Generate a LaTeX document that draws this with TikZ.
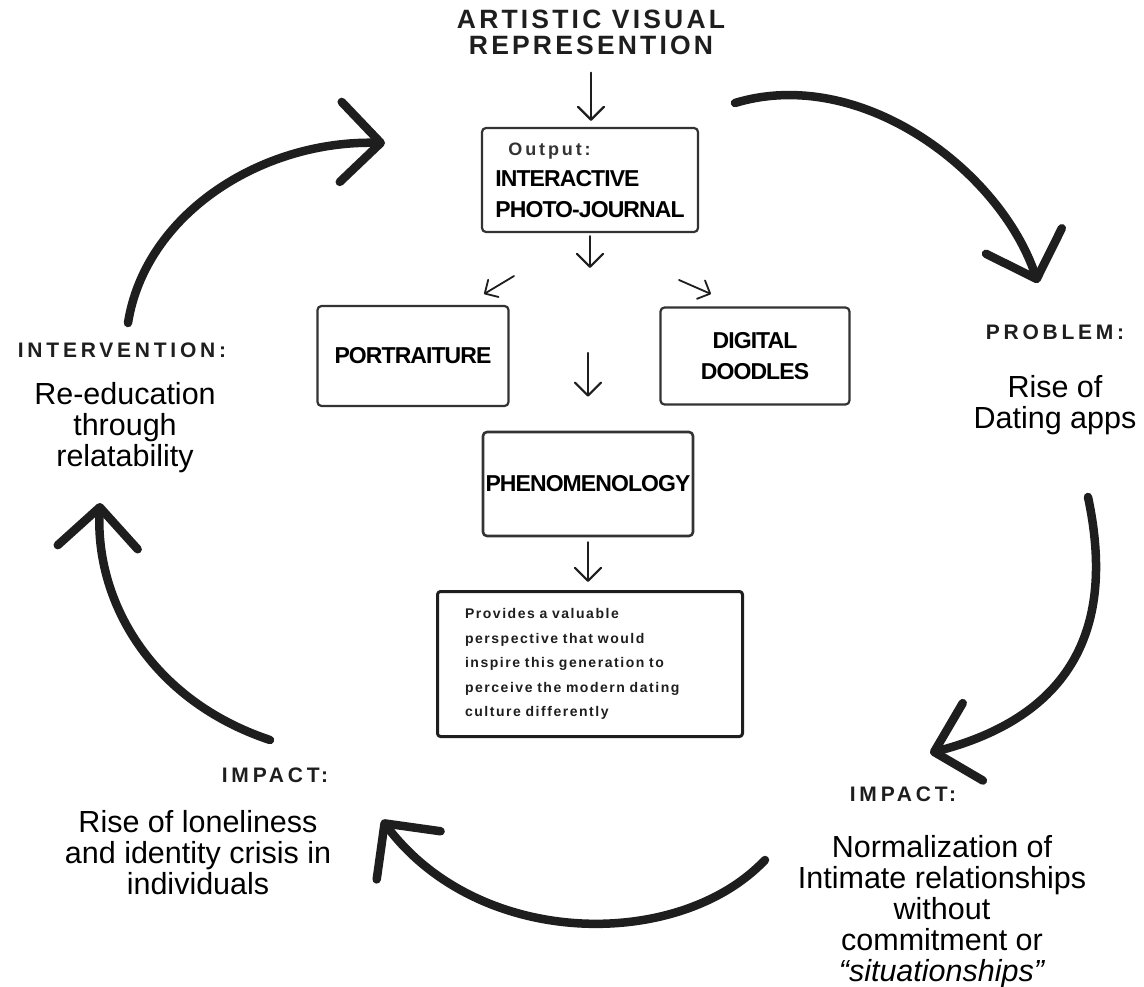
\documentclass[tikz,border=0pt]{standalone}
\usepackage{fontspec}
\setmainfont{Liberation Sans}
\newfontfamily\headfont{Liberation Sans}[LetterSpace=12]
\newfontfamily\capsfont{Liberation Sans}[LetterSpace=18]
\newfontfamily\outfont{Liberation Sans}[LetterSpace=16]
\newfontfamily\tightfont{Liberation Sans}[LetterSpace=-4]
\newfontfamily\notefont{Liberation Sans}[LetterSpace=11,WordSpace=2.6]
\usetikzlibrary{arrows.meta,positioning}
\definecolor{ink}{HTML}{1E1E1E}
\definecolor{frame}{HTML}{333333}

\begin{document}
\begin{tikzpicture}[line cap=round,line join=round,x=1pt,y=-1pt,
  framebox/.style={draw=frame,line width=2.2pt,rounded corners=4pt,text=black,
    font=\tightfont\bfseries\fontsize{23}{31}\selectfont,align=center},
  tagtext/.style={inner sep=0pt,anchor=north,text=ink,
    font=\capsfont\bfseries\fontsize{21}{23}\selectfont},
  bodytext/.style={inner sep=0pt,anchor=north,align=center,text=black,
    font=\fontsize{30.5}{31}\selectfont},
  flowarrow/.style={-{Straight Barb[length=13pt,width=26pt,round]},line width=2.2pt,draw=ink},
  cyclearrow/.style={-{Straight Barb[length=40pt,width=80pt,round]},line width=8.5pt,draw=ink}]
    \path[use as bounding box,fill=white] (0,0) rectangle (1144,987);

    \node[inner sep=0pt,anchor=north,align=center,text=ink,
      font=\headfont\bfseries\fontsize{26.5}{25.5}\selectfont] (heading) at (591,10) {ARTISTIC VISUAL\\REPRESENTION};

    \node[framebox,minimum width=216pt,minimum height=104pt,inner xsep=11pt,align=left] (out) at (590,180)
      {\hspace*{13pt}{\outfont\fontsize{18}{31}\selectfont\color{frame}Output:}\\INTERACTIVE\\PHOTO-JOURNAL};
    \node[framebox,minimum width=191pt,minimum height=100pt] (portrait) at (413,356) {PORTRAITURE};
    \node[framebox,minimum width=189pt,minimum height=97pt] (doodles) at (755,356) {DIGITAL\\DOODLES};
    \node[framebox,minimum width=210pt,minimum height=104pt,inner xsep=2pt,line width=2.6pt] (phenom) at (588,484) {PHENOMENOLOGY};
    \node[draw=ink,line width=3pt,rounded corners=3pt,minimum width=305pt,minimum height=145pt,
      text width=250pt,inner xsep=27pt,align=left,text=ink,
      font=\notefont\bfseries\fontsize{14}{24.5}\selectfont] (note) at (590,664)
      {Provides a valuable\\perspective that would\\inspire this generation to\\perceive the modern dating\\culture differently};

    \coordinate (split) at (590,268);
    \coordinate (leftfrom) at (514,276);
    \coordinate (leftto) at (484,294);
    \coordinate (rightfrom) at (679,280);
    \coordinate (rightto) at (711,294);
    \coordinate (midfrom) at (588,353);

    \draw[flowarrow,shorten <=18pt,shorten >=6pt] (heading.south) -- (heading.south |- out.north);
    \draw[flowarrow,shorten <=3pt] (out.south) -- (split);
    \draw[flowarrow,line width=1.8pt,-{Straight Barb[length=10pt,width=20pt,round]}] (leftfrom) -- (leftto);
    \draw[flowarrow,line width=1.8pt,-{Straight Barb[length=10pt,width=20pt,round]}] (rightfrom) -- (rightto);
    \draw[flowarrow,shorten >=34pt] (midfrom) -- (midfrom |- phenom.north);
    \draw[flowarrow,shorten <=5pt,shorten >=8pt] (phenom.south) -- (phenom.south |- note.north);

    \node[tagtext] (intervtag) at (122,343) {INTERVENTION:};
    \node[bodytext] (interv) at (125,382) {Re-education\\through\\relatability};
    \node[tagtext] (problemtag) at (1055,325) {PROBLEM:};
    \node[bodytext] (problem) at (1055,375) {Rise of\\Dating apps};
    \node[tagtext] (impacttagR) at (903,787) {IMPACT:};
    \node[bodytext] (impactR) at (942,835) {Normalization of\\Intimate relationships\\without\\commitment or\\\textit{“situationships”}};
    \node[tagtext] (impacttagL) at (275,768) {IMPACT:};
    \node[bodytext] (impactL) at (198,810) {Rise of loneliness\\and identity crisis in\\individuals};

    \draw[cyclearrow] (128,323) .. controls (145,215) and (260,140) .. (385,143);
    \draw[cyclearrow] (735,103) .. controls (860,65) and (1000,170) .. (1038,283);
    \draw[cyclearrow] (1088,497) .. controls (1110,600) and (1095,710) .. (930,753);
    \draw[cyclearrow] (765,860) .. controls (680,950) and (480,950) .. (382,820);
    \draw[cyclearrow] (270,740) .. controls (150,700) and (95,600) .. (100,503);
\end{tikzpicture}
\end{document}
